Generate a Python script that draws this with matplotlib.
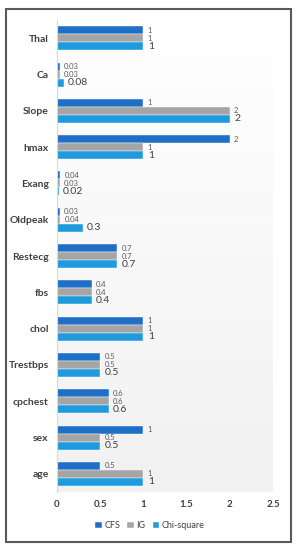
import numpy as np
import matplotlib
matplotlib.use('Agg')
import matplotlib.pyplot as plt
from matplotlib.patches import Rectangle

plt.rcParams['font.family'] = ['Lato', 'DejaVu Sans']

# data, top to bottom as shown
features = ['Thal', 'Ca', 'Slope', 'hmax', 'Exang', 'Oldpeak', 'Restecg',
            'fbs', 'chol', 'Trestbps', 'cpchest', 'sex', 'age']
cfs = [1, 0.03, 1, 2, 0.04, 0.03, 0.7, 0.4, 1, 0.5, 0.6, 1, 0.5]
ig = [1, 0.03, 2, 1, 0.03, 0.04, 0.7, 0.4, 1, 0.5, 0.6, 0.5, 1]
chi = [1, 0.08, 2, 1, 0.02, 0.3, 0.7, 0.4, 1, 0.5, 0.6, 0.5, 1]
series_names = ['CFS', 'IG', 'Chi-square']
xticks = [0, 0.5, 1, 1.5, 2, 2.5]

colors = ['#1F6FC6', '#A5A5A5', '#1F9BDD']

fig = plt.figure(figsize=(3, 5.5), dpi=100)
ax = fig.add_axes([0.19, 0.1055, 0.72, 0.858])

# soft gradient background like the excel plot area
grad = np.linspace(1, 0, 256).reshape(-1, 1)
ax.imshow(grad, extent=[0, 2.5, -0.5, len(features) - 0.5], aspect='auto',
          cmap=matplotlib.colors.LinearSegmentedColormap.from_list('bg', ['#F1F1F1', '#FFFFFF']),
          origin='lower', zorder=0)

y = np.arange(len(features))
h = 0.22
label_sizes = [5.5, 5.5, 7.5]
label_colors = ['#595959', '#595959', '#404040']
for i, (vals, name) in enumerate(zip([cfs, ig, chi], series_names)):
    pos = y + (i - 1) * h
    bars = ax.barh(pos, vals, height=h, color=colors[i], label=name,
                   edgecolor='white', linewidth=0.3, zorder=2)
    for yy, v in zip(pos, vals):
        ax.text(v + 0.05, yy, f'{v:g}', va='center', ha='left',
                fontsize=label_sizes[i], color=label_colors[i], zorder=3)

ax.set_ylim(len(features) - 0.5, -0.5)
ax.set_xlim(0, 2.5)
ax.set_yticks(y)
ax.set_yticklabels(features, fontsize=7.5, fontweight='bold', color='#404040')
ax.set_xticks(xticks)
ax.set_xticklabels([f'{t:g}' for t in xticks], fontsize=7, fontweight='bold', color='#404040')
ax.tick_params(length=0, pad=6)
for s in ['top', 'right', 'bottom']:
    ax.spines[s].set_visible(False)
ax.spines['left'].set_color('#D9D9D9')
ax.spines['left'].set_linewidth(0.8)

fig.legend(loc='center', bbox_to_anchor=(0.5, 0.044), ncol=3, frameon=False,
           fontsize=6.5, handlelength=0.7, handleheight=0.7, handletextpad=0.3,
           columnspacing=0.8, labelcolor='#404040')

fig.patches.append(Rectangle((0.02, 0.0145), 0.95, 0.9695, transform=fig.transFigure,
                             fill=False, edgecolor='#595959', linewidth=1.5))

fig.savefig('out.png', dpi=100)
